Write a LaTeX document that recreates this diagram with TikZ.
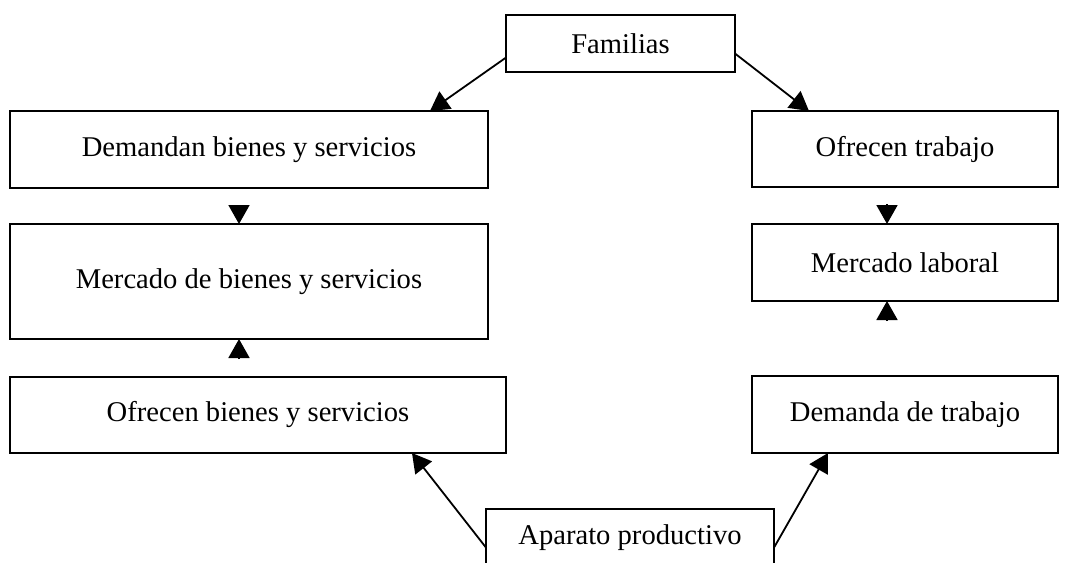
\documentclass[tikz,border=0pt]{standalone}
\usepackage{fontspec}
\setmainfont{Liberation Serif}
\usetikzlibrary{arrows.meta, positioning, calc}

\begin{document}
\begin{tikzpicture}[x=0.5pt, y=-0.5pt,
  box/.style={draw=black, line width=0.9pt, fill=white, inner sep=0pt, outer sep=0pt,
    align=center, font=\fontsize{14.3}{17}\selectfont},
  arrow/.style={-{Triangle[length=9.5pt, width=10.5pt]}, line width=0.9pt, draw=black}]
  \useasboundingbox (0,0) rectangle (1086,562);
  % top and bottom
  \node[box, minimum width=114.5pt, minimum height=28.5pt, anchor=north west] (fam) at (506,15) {Familias};
  \node[box, minimum width=144pt, minimum height=28.5pt, anchor=north west] (apa) at (486,509) {Aparato productivo};
  % left column
  \node[box, minimum width=239pt, minimum height=38.5pt, anchor=north west] (dem) at (10,111) {Demandan bienes y servicios};
  \node[box, minimum width=239pt, minimum height=57.5pt, below right=18pt and 0pt of dem.south west] (mbs) {Mercado de bienes y servicios};
  \node[box, minimum width=248pt, minimum height=38pt, below right=19pt and 0pt of mbs.south west] (obs) {Ofrecen bienes y servicios};
  % right column
  \node[box, minimum width=153pt, minimum height=38pt, anchor=north west] (otr) at (752,111) {Ofrecen trabajo};
  \node[box, minimum width=153pt, minimum height=38.5pt, below right=18.5pt and 0pt of otr.south west] (mla) {Mercado laboral};
  \node[box, minimum width=153pt, minimum height=38.5pt, below right=37.5pt and 0pt of mla.south west] (dtr) {Demanda de trabajo};
  % connectors
  \draw[arrow] (fam.187) -- ($(dem.north)+(181,0)$);
  \draw[arrow] (fam.355) -- ($(otr.north)+(-96,0)$);
  \draw[arrow, shorten <=8.5pt] ($(dem.south)+(-10,0)$) -- ($(mbs.north)+(-10,0)$);
  \draw[arrow, shorten <=9pt] ($(obs.north)+(-19,0)$) -- ($(mbs.south)+(-10,0)$);
  \draw[arrow, shorten <=8.5pt] ($(otr.south)+(-18,0)$) -- ($(mla.north)+(-18,0)$);
  \draw[arrow, shorten <=27.5pt] ($(dtr.north)+(-18,0)$) -- ($(mla.south)+(-18,0)$);
  \draw[arrow] (apa.184) -- ($(obs.south)+(154,0)$);
  \draw[arrow] (apa.356) -- ($(dtr.south)+(-77,0)$);
\end{tikzpicture}
\end{document}
